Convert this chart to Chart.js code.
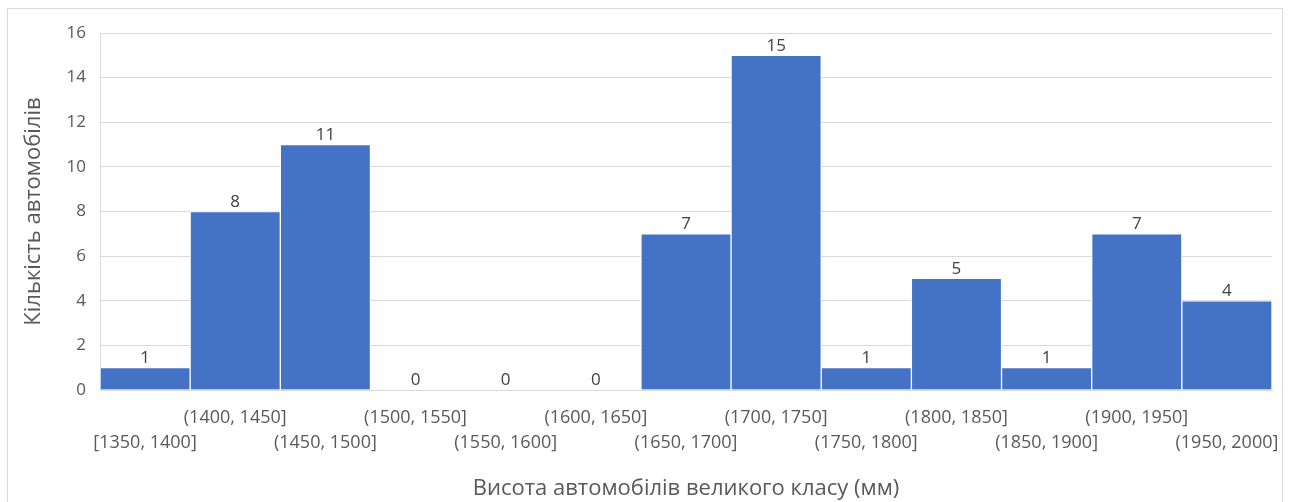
<!DOCTYPE html>
<html lang="uk">
<head>
    <meta charset="UTF-8">
    <title>Висота автомобілів великого класу</title>
    <script src="https://cdn.jsdelivr.net/npm/chart.js"></script>
    <style>
        body { margin: 0; background: white; font-family: 'Open Sans', sans-serif; }
        .frame {
            position: absolute; left: 7px; top: 8px; width: 1276px; height: 500px;
            border: 1px solid #d9d9d9; box-sizing: border-box;
        }
        .wrap { position: absolute; left: 0; top: 0; width: 1289px; height: 502px; }
    </style>
</head>
<body>
<div class="frame"></div>
<div class="wrap"><canvas id="histChart"></canvas></div>
<script>
    const bins = ['[1350, 1400]', '(1400, 1450]', '(1450, 1500]', '(1500, 1550]', '(1550, 1600]',
        '(1600, 1650]', '(1650, 1700]', '(1700, 1750]', '(1750, 1800]', '(1800, 1850]',
        '(1850, 1900]', '(1900, 1950]', '(1950, 2000]'];
    const counts = [1, 8, 11, 0, 0, 0, 7, 15, 1, 5, 1, 7, 4];
    const yTicks = [0, 2, 4, 6, 8, 10, 12, 14, 16];

    const textColor = '#595959';
    const gridColor = '#d9d9d9';

    // staggered labels: even bins on the lower row, odd bins on the upper one
    const staggered = bins.map((b, i) => i % 2 === 0 ? ['', b] : [b, '']);

    const valueLabels = {
        id: 'valueLabels',
        afterDatasetsDraw(chart) {
            const ctx = chart.ctx;
            const meta = chart.getDatasetMeta(0);
            ctx.save();
            ctx.font = '17px "Open Sans", sans-serif';
            ctx.fillStyle = '#404040';
            ctx.textAlign = 'center';
            ctx.textBaseline = 'bottom';
            meta.data.forEach((bar, i) => {
                ctx.fillText(counts[i], bar.x, bar.y - 1);
            });
            ctx.restore();
        }
    };

    new Chart(document.getElementById('histChart'), {
        type: 'bar',
        data: {
            labels: staggered,
            datasets: [{
                data: counts,
                backgroundColor: '#4472C4',
                borderColor: '#ffffff',
                borderWidth: 1,
                categoryPercentage: 1,
                barPercentage: 1
            }]
        },
        options: {
            responsive: true,
            maintainAspectRatio: false,
            animation: false,
            layout: { padding: { left: 0, right: 17, top: 33, bottom: 0 } },
            plugins: {
                legend: { display: false },
                tooltip: { enabled: false }
            },
            scales: {
                x: {
                    grid: { display: false },
                    border: { display: true, color: gridColor },
                    ticks: {
                        color: textColor,
                        font: { family: 'Open Sans', size: 18, lineHeight: '25px' },
                        maxRotation: 0,
                        autoSkip: false,
                        padding: 7
                    },
                    title: {
                        display: true,
                        text: 'Висота автомобілів великого класу (мм)',
                        color: textColor,
                        font: { family: 'Open Sans', size: 22 },
                        padding: { top: 0, bottom: 0 }
                    },
                    afterFit(scale) { scale.height = 112; }
                },
                y: {
                    min: 0,
                    max: 16,
                    afterBuildTicks(scale) { scale.ticks = yTicks.map(v => ({ value: v })); },
                    grid: { color: gridColor, drawTicks: false },
                    border: { display: true, color: gridColor },
                    ticks: {
                        color: textColor,
                        font: { family: 'Open Sans', size: 17 },
                        padding: 14
                    },
                    title: {
                        display: true,
                        text: 'Кількість автомобілів',
                        color: textColor,
                        font: { family: 'Open Sans', size: 22 },
                        padding: { top: 21, bottom: 0 }
                    },
                    afterFit(scale) { scale.width = 100; }
                }
            }
        },
        plugins: [valueLabels]
    });
</script>
</body>
</html>
